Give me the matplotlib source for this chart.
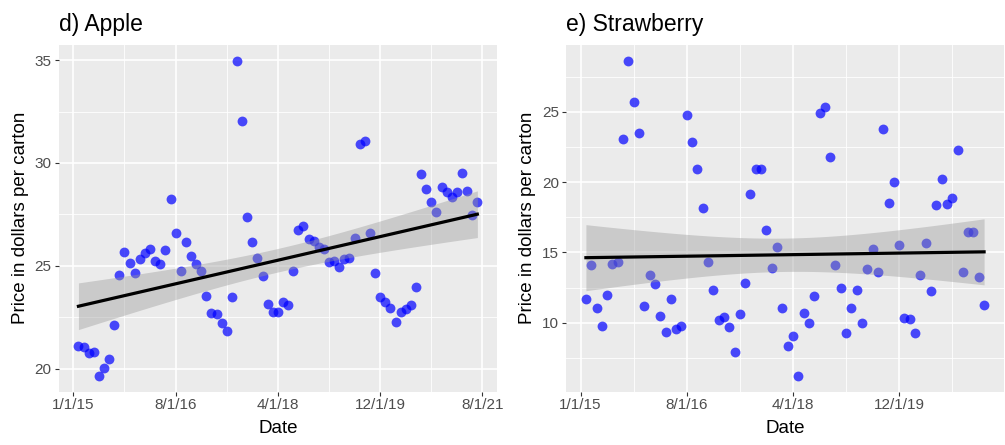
import numpy as np
import matplotlib
matplotlib.use("Agg")
import matplotlib.pyplot as plt

plt.rcParams['font.family'] = ['Liberation Sans', 'DejaVu Sans']

apple_price = [21.10, 21.06, 20.77, 20.82, 19.65, 20.04, 20.45, 22.10, 24.53, 25.68,
               25.15, 24.66, 25.31, 25.63, 25.81, 25.23, 25.10, 25.76, 28.24, 26.58,
               24.76, 26.15, 25.47, 25.07, 24.76, 23.53, 22.68, 22.65, 22.20, 21.84,
               23.49, 34.97, 32.02, 27.35, 26.17, 25.36, 24.48, 23.14, 22.75, 22.75,
               23.22, 23.09, 24.74, 26.72, 26.95, 26.28, 26.20, 25.92, 25.80, 25.17,
               25.23, 24.95, 25.31, 25.36, 26.33, 30.92, 31.08, 26.60, 24.66, 23.48,
               23.22, 22.93, 22.26, 22.75, 22.88, 23.07, 23.95, 29.47, 28.73, 28.08,
               27.60, 28.81, 28.57, 28.33, 28.60, 29.51, 28.63, 27.48, 28.11]

straw_price = [11.66, 14.08, 11.02, 9.78, 11.99, 14.17, 14.33, 23.03, 28.62, 25.70,
               23.50, 11.20, 13.41, 12.75, 10.50, 9.36, 11.68, 9.57, 9.76, 24.74,
               22.82, 20.90, 18.15, 14.31, 12.34, 10.19, 10.42, 9.69, 7.94, 10.64,
               12.84, 19.16, 20.92, 20.92, 16.61, 13.90, 15.36, 11.02, 8.36, 9.03,
               6.23, 10.66, 10.00, 11.92, 24.92, 25.31, 21.77, 14.12, 12.48, 9.26,
               11.02, 12.34, 10.00, 13.81, 15.26, 13.60, 23.74, 18.48, 20.00, 15.52,
               10.31, 10.28, 9.29, 13.39, 15.64, 12.25, 18.38, 20.21, 18.41, 18.84,
               22.25, 13.60, 16.44, 16.44, 13.27, 11.25]

# month index since the 1/1/15 tick (first observation is month 1)
apple_month = np.arange(1, len(apple_price) + 1)
straw_month = np.arange(1, len(straw_price) + 1)

tick_months = [0, 20, 40, 60, 80]
tick_labels = ['1/1/15', '8/1/16', '4/1/18', '12/1/19', '8/1/21']

T_CRIT = 1.99  # two-sided 95% t quantile (df ~ 75)


def lm_band(x, y, n=100):
    x = np.asarray(x, float)
    y = np.asarray(y, float)
    b1, b0 = np.polyfit(x, y, 1)
    resid = y - (b0 + b1 * x)
    dof = len(x) - 2
    s = np.sqrt(np.sum(resid ** 2) / dof)
    xs = np.linspace(x.min(), x.max(), n)
    sxx = np.sum((x - x.mean()) ** 2)
    se = s * np.sqrt(1.0 / len(x) + (xs - x.mean()) ** 2 / sxx)
    fit = b0 + b1 * xs
    return xs, fit, fit - T_CRIT * se, fit + T_CRIT * se


def panel(ax, x, y, title, yticks):
    ax.set_facecolor('#EBEBEB')
    xs, fit, lo, hi = lm_band(x, y)
    ax.scatter(x, y, s=50, color='#0000FF', alpha=0.7, linewidths=0, zorder=3)
    ax.fill_between(xs, lo, hi, color='#999999', alpha=0.4, linewidth=0, zorder=4)
    ax.plot(xs, fit, color='black', linewidth=2.3, zorder=5)

    xr = max(x) - min(x)
    yr = max(y) - min(y)

    ax.set_xticks(tick_months)
    ax.set_xticklabels(tick_labels)
    ax.set_xticks([m + 10 for m in tick_months[:-1]], minor=True)
    ax.set_yticks(yticks)
    ax.set_yticks([v + 2.5 for v in [yticks[0] - 5] + yticks], minor=True)
    ax.set_xlim(min(x) - 0.05 * xr, max(x) + 0.05 * xr)
    ax.set_ylim(min(y) - 0.05 * yr, max(y) + 0.05 * yr)

    ax.grid(which='major', color='white', linewidth=1.2)
    ax.grid(which='minor', color='white', linewidth=0.6)
    ax.set_axisbelow(True)
    for sp in ax.spines.values():
        sp.set_visible(False)
    ax.tick_params(which='major', length=3, width=0.8, color='#333333',
                   labelcolor='#4D4D4D', labelsize=11, pad=2)
    ax.tick_params(which='minor', length=0)
    ax.set_xlabel('Date', fontsize=13.5, color='black', labelpad=5.5)
    ax.set_ylabel('Price in dollars per carton', fontsize=13.5, color='black', labelpad=4)
    ax.set_title(title, loc='left', fontsize=16.5, pad=10)


fig = plt.figure(figsize=(10.05, 4.45), dpi=100)
ax1 = fig.add_axes([58.5 / 1005, 53.5 / 445, 438.8 / 1005, 346.5 / 445])
ax2 = fig.add_axes([566 / 1005, 53.5 / 445, 438 / 1005, 346.5 / 445])

panel(ax1, apple_month, apple_price, 'd) Apple', [20, 25, 30, 35])
panel(ax2, straw_month, straw_price, 'e) Strawberry', [10, 15, 20, 25])

fig.savefig('out.png', dpi=100)
